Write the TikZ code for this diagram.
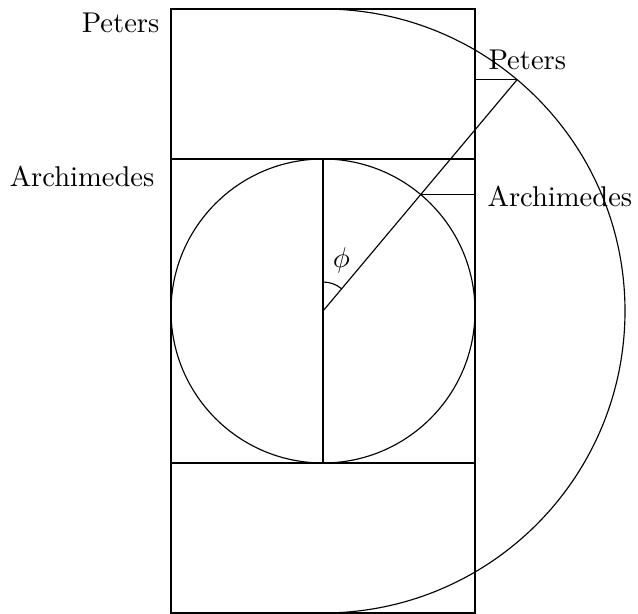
\documentclass[tikz,border=0pt]{standalone}
\begin{document}
\begin{tikzpicture}[x=0.35pt, y=0.35pt,
    sidelabel/.style = {inner sep=0pt, font=\normalsize},
    edge/.style = {draw, line width=0.4pt}]

    \useasboundingbox (-323,-303) rectangle (315,311);

    \coordinate (C) at (0,0);
    \coordinate (E) at (152,0);
    \coordinate (T) at (0,152);
    \coordinate (B) at (0,-152);
    \coordinate (A) at (50:152);
    \coordinate (P) at (50:302);

    % frame and cylinder
    \draw[edge] (-152,-302) rectangle (152,302);
    \draw[edge] (-152,152) -- (152,152);
    \draw[edge] (-152,-152) -- (152,-152);
    \draw[edge] (C) circle (152);
    \draw[edge] (T) -- (B);
    \draw[edge] (0,302) arc (90:-90:302);

    % projections
    \draw[edge] (C) -- (P);
    \draw[edge] (A) -- (A -| E);
    \draw[edge] (P) -- (P -| E);
    \draw[edge] (0,29) arc (90:50:29);
    \node (phi) at (70:54) {$\phi$};

    \node[sidelabel, anchor=base east] (peL) at (-163,278) {Peters};
    \node[sidelabel, anchor=base east] (arL) at (-168,124) {Archimedes};
    \node[sidelabel, anchor=base west] (peR) at (165,241) {Peters};
    \node[sidelabel, anchor=base west] (arR) at (164,104) {Archimedes};
\end{tikzpicture}
\end{document}
